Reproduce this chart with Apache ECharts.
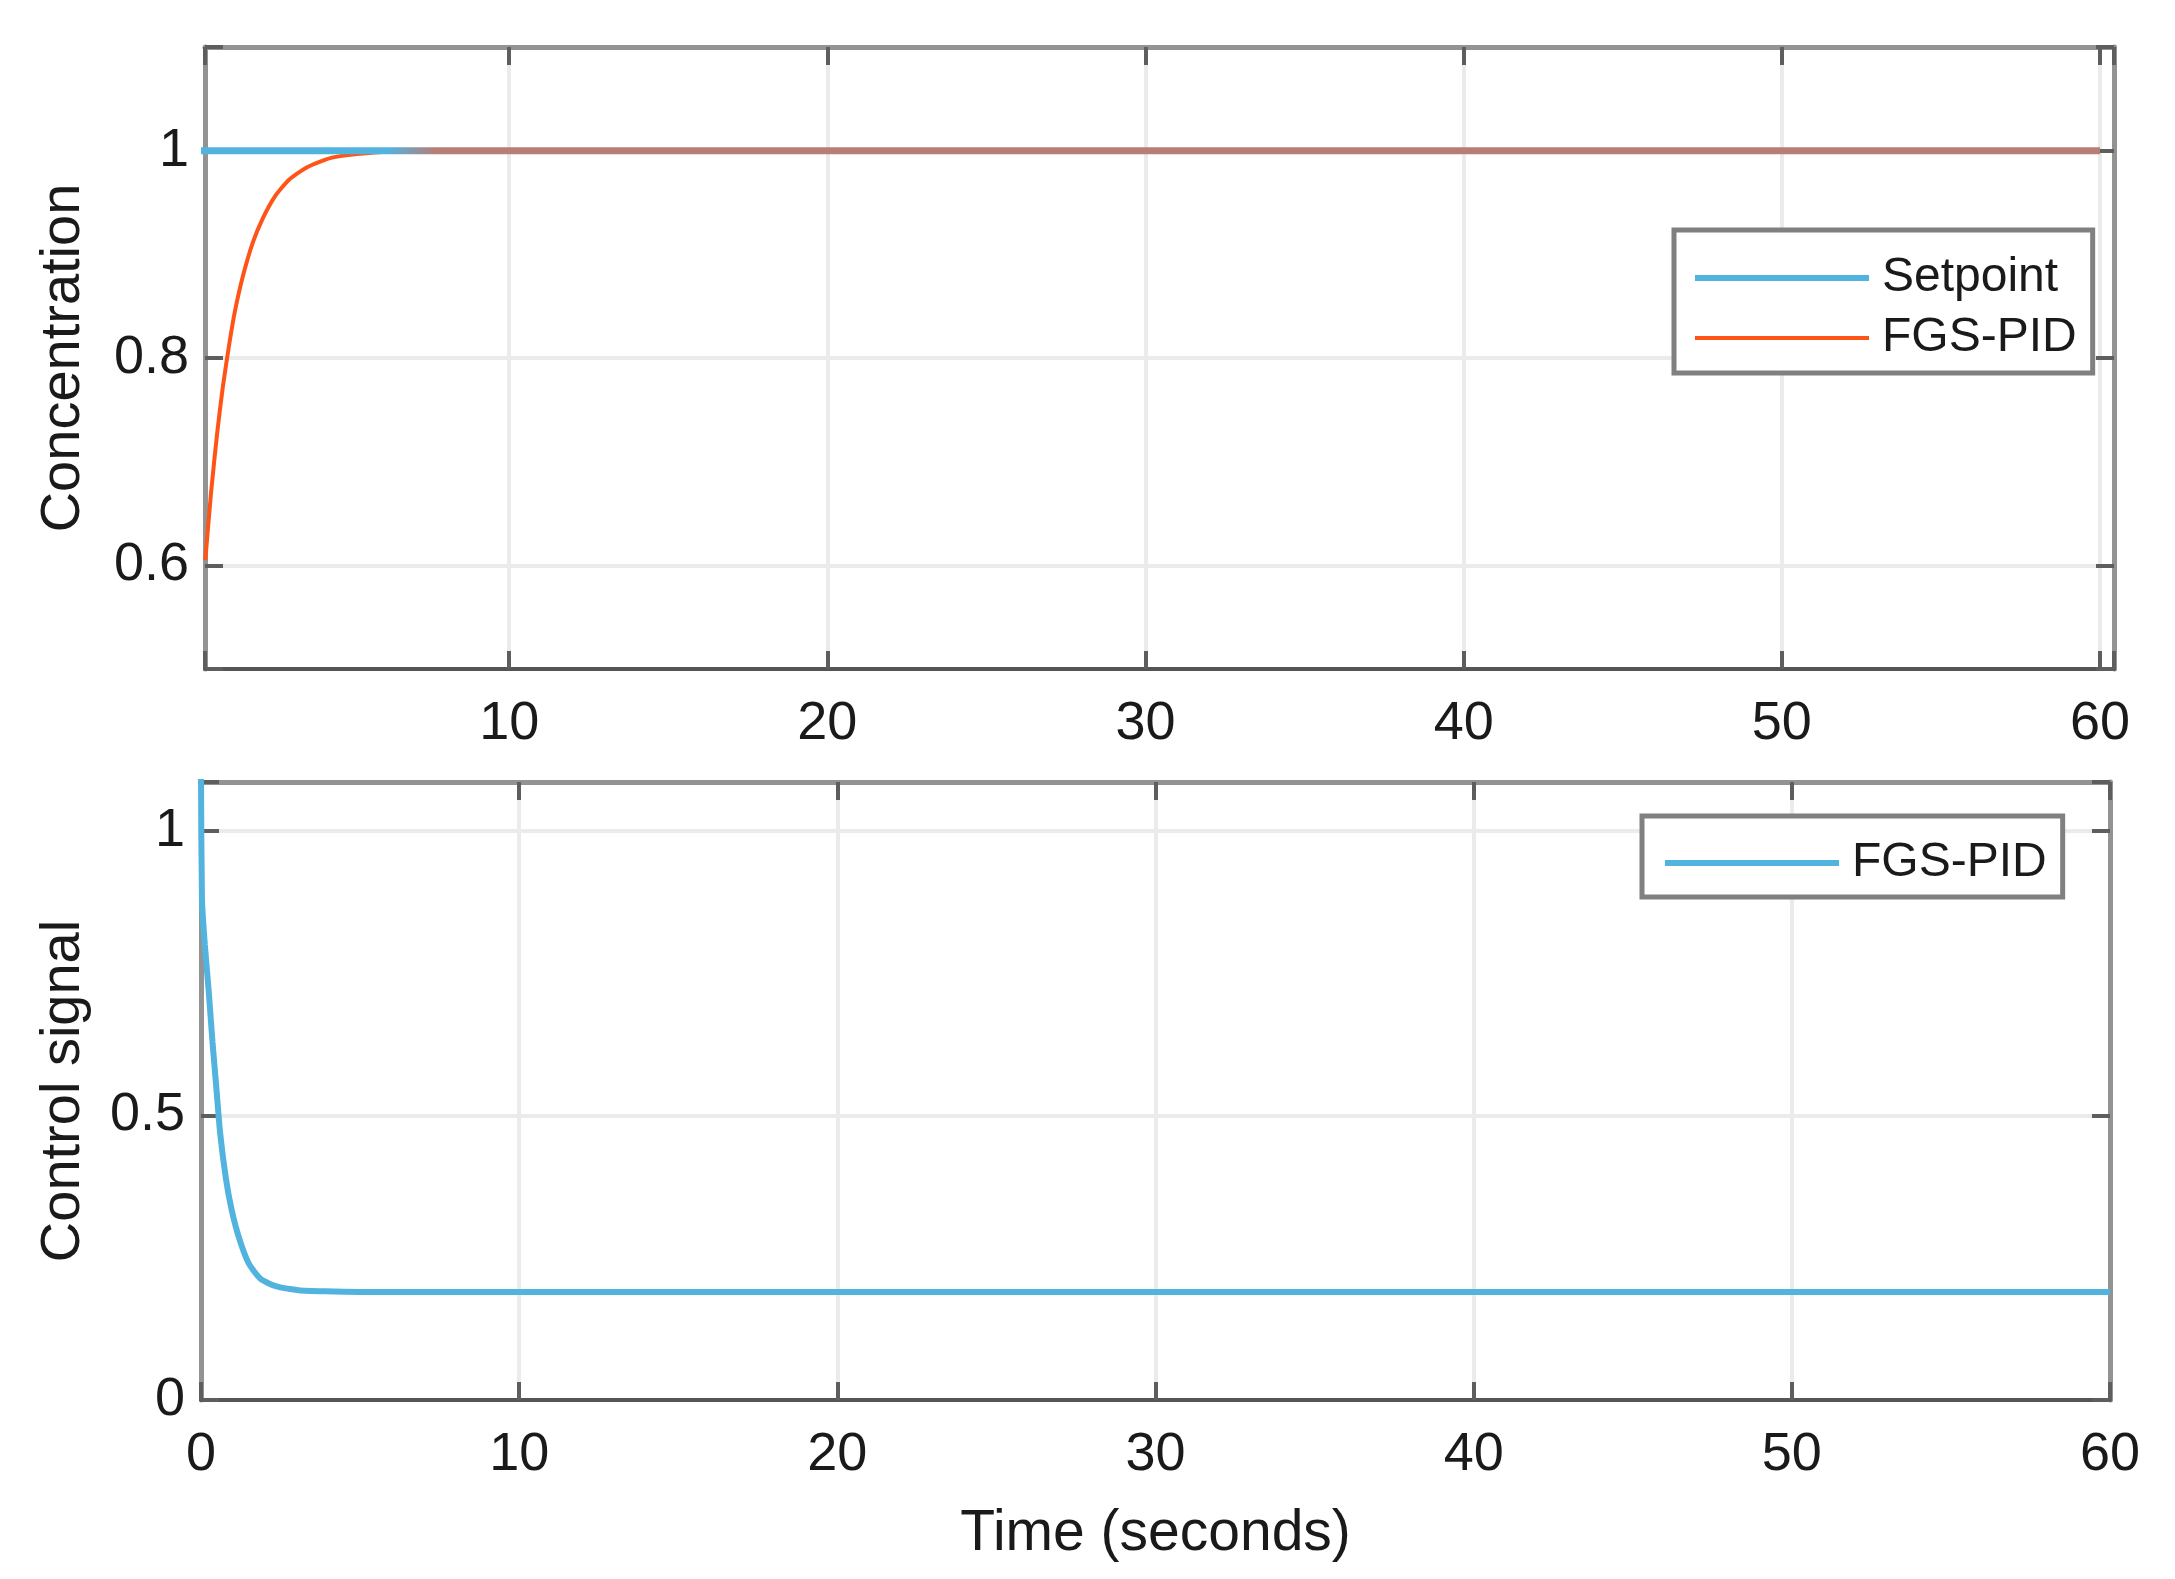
<!DOCTYPE html>
<html>
<head>
<meta charset="utf-8">
<script src="https://cdn.jsdelivr.net/npm/echarts@6/dist/echarts.min.js"></script>
<style>
html,body{margin:0;padding:0;background:#fff;}
#chart{width:2175px;height:1579px;}
</style>
</head>
<body>
<div id="chart"></div>
<script>
// ---- data ----
const setpointTime = [0, 60];
const setpointValue = [1, 1];

const concTime = [0.45, 0.63, 0.82, 1.0, 1.2, 1.38, 1.64, 1.95, 2.26, 2.64, 3.08, 3.65, 4.4, 5.3, 6.3, 8, 60];
const concValue = [0.605, 0.67, 0.727, 0.772, 0.813, 0.845, 0.88, 0.912, 0.935, 0.956, 0.972, 0.984, 0.993, 0.997, 0.999, 1.0, 1.0];

const ctrlTime = [0, 0.03, 0.12, 0.24, 0.36, 0.48, 0.6, 0.78, 0.96, 1.2, 1.5, 1.87, 2.35, 3.07, 3.9, 5, 60];
const ctrlValue = [1.1, 0.88, 0.8, 0.72, 0.63, 0.55, 0.47, 0.39, 0.335, 0.284, 0.24, 0.213, 0.2, 0.193, 0.191, 0.19, 0.19];

const topXTicks = ['10', '20', '30', '40', '50', '60'];
const bottomXTicks = ['0', '10', '20', '30', '40', '50', '60'];
const topYTicks = ['0.6', '0.8', '1'];
const bottomYTicks = ['0', '0.5', '1'];

const legendTop = ['Setpoint', 'FGS-PID'];
const legendBottom = ['FGS-PID'];

// ---- styling ----
const FONT = "'Liberation Sans', Arial, sans-serif";
const TXT = '#1a1a1a';
const BLUE = '#53B3DF';
const ORANGE = '#FF5418';
const BROWN = '#B77E76';
const BORDER = '#939393';
const BOTTOMLINE = '#555555';
const GRIDC = '#ebebeb';

function pairs(xs, ys) { return xs.map((x, i) => [x, ys[i]]); }

const tickStyle = { show: true, inside: true, length: 18, lineStyle: { color: '#5e5e5e', width: 4 } };
const labelStyle = (list, margin) => ({
  show: true, fontSize: 54, fontFamily: FONT, color: TXT, margin: margin,
  showMinLabel: true, showMaxLabel: true,
  formatter: v => { const s = String(+(+v).toFixed(3)); return list.indexOf(s) >= 0 ? s : ''; }
});
const splitStyle = { show: true, showMinLine: false, showMaxLine: false, lineStyle: { color: GRIDC, width: 4 } };

function mirrorX(grid, min, max, extra) {
  return Object.assign({
    type: 'value', gridIndex: grid, position: 'top', min: min, max: max,
    axisLine: { show: true, onZero: false, lineStyle: { color: BORDER, width: 5 } },
    axisTick: tickStyle, axisLabel: { show: false }, splitLine: { show: false }
  }, extra);
}
function mirrorY(grid, min, max, extra) {
  return Object.assign({
    type: 'value', gridIndex: grid, position: 'right', min: min, max: max,
    axisLine: { show: true, onZero: false, lineStyle: { color: BORDER, width: 5 } },
    axisTick: tickStyle, axisLabel: { show: false }, splitLine: { show: false }
  }, extra);
}

const legendText = { fontSize: 48, fontFamily: FONT, color: TXT, padding: [0, 0, 0, 8] };

const option = {
  animation: false,
  backgroundColor: '#ffffff',
  textStyle: { fontFamily: FONT },
  grid: [
    { left: 205, top: 47, width: 1909, height: 622, show: false },
    { left: 201, top: 782, width: 1909, height: 618, show: false }
  ],
  legend: [
    {
      orient: 'vertical', left: 1674, top: 230,
      padding: [24, 16, 11, 18], itemGap: 12, itemWidth: 174, itemHeight: 4,
      borderColor: '#808080', borderWidth: 5, backgroundColor: '#fff',
      selectedMode: false,
      textStyle: legendText,
      data: [
        { name: legendTop[0], itemStyle: { color: BLUE, opacity: 0 }, lineStyle: { color: BLUE, width: 6 } },
        { name: legendTop[1], itemStyle: { color: ORANGE, opacity: 0 }, lineStyle: { color: ORANGE, width: 4 } }
      ]
    },
    {
      orient: 'vertical', left: 1642, top: 816,
      padding: [23, 16, 10, 20], itemGap: 11, itemWidth: 174, itemHeight: 4,
      borderColor: '#808080', borderWidth: 5, backgroundColor: '#fff',
      selectedMode: false,
      textStyle: legendText,
      data: [
        { name: legendBottom[0], itemStyle: { color: BLUE, opacity: 0 }, lineStyle: { color: BLUE, width: 6 } }
      ]
    }
  ],
  xAxis: [
    {
      type: 'value', gridIndex: 0, position: 'bottom', min: 0.44, max: 60.44,
      minInterval: 10, maxInterval: 10,
      axisLine: { show: true, onZero: false, lineStyle: { color: BOTTOMLINE, width: 4 } },
      axisTick: tickStyle,
      axisLabel: labelStyle(topXTicks, 28),
      splitLine: splitStyle
    },
    mirrorX(0, 0.44, 60.44, { minInterval: 10, maxInterval: 10 }),
    {
      type: 'value', gridIndex: 1, position: 'bottom', min: 0, max: 60, interval: 10,
      name: 'Time (seconds)', nameLocation: 'middle', nameGap: 106,
      nameTextStyle: { fontSize: 57, fontFamily: FONT, color: TXT },
      axisLine: { show: true, onZero: false, lineStyle: { color: BOTTOMLINE, width: 4 } },
      axisTick: tickStyle,
      axisLabel: labelStyle(bottomXTicks, 28),
      splitLine: splitStyle
    },
    mirrorX(1, 0, 60, { interval: 10 })
  ],
  yAxis: [
    {
      type: 'value', gridIndex: 0, position: 'left', min: 0.5, max: 1.1,
      minInterval: 0.2, maxInterval: 0.2,
      name: 'Concentration', nameLocation: 'middle', nameGap: 113,
      nameTextStyle: { fontSize: 56, fontFamily: FONT, color: TXT },
      axisLine: { show: true, onZero: false, lineStyle: { color: BORDER, width: 5 } },
      axisTick: tickStyle,
      axisLabel: labelStyle(topYTicks, 16),
      splitLine: splitStyle
    },
    mirrorY(0, 0.5, 1.1, { minInterval: 0.2, maxInterval: 0.2 }),
    {
      type: 'value', gridIndex: 1, position: 'left', min: 0, max: 1.086, interval: 0.5,
      name: 'Control signal', nameLocation: 'middle', nameGap: 109,
      nameTextStyle: { fontSize: 56, fontFamily: FONT, color: TXT },
      axisLine: { show: true, onZero: false, lineStyle: { color: BORDER, width: 5 } },
      axisTick: tickStyle,
      axisLabel: labelStyle(bottomYTicks, 16),
      splitLine: splitStyle
    },
    mirrorY(1, 0, 1.086, { interval: 0.5 })
  ],
  series: [
    {
      name: 'FGS-PID', type: 'line', xAxisIndex: 0, yAxisIndex: 0, z: 2,
      data: pairs(concTime, concValue), symbol: 'none', showSymbol: false,
      smooth: 0.2,
      lineStyle: { color: ORANGE, width: 4 }, itemStyle: { color: ORANGE }
    },
    {
      name: 'Setpoint', type: 'line', xAxisIndex: 0, yAxisIndex: 0, z: 3,
      data: pairs(setpointTime, setpointValue), symbol: 'none', showSymbol: false,
      lineStyle: {
        width: 7,
        color: { type: 'linear', x: 388, y: 0, x2: 436, y2: 0, global: true,
          colorStops: [{ offset: 0, color: BLUE }, { offset: 1, color: BROWN }] }
      },
      itemStyle: { color: BLUE }
    },
    {
      name: 'FGS-PID', type: 'line', xAxisIndex: 2, yAxisIndex: 2, z: 2,
      data: pairs(ctrlTime, ctrlValue), symbol: 'none', showSymbol: false,
      smooth: 0.2,
      lineStyle: { color: BLUE, width: 6 }, itemStyle: { color: BLUE }
    }
  ]
};

const chart = echarts.init(document.getElementById('chart'), null, { renderer: 'canvas' });
chart.setOption(option);
</script>
</body>
</html>
